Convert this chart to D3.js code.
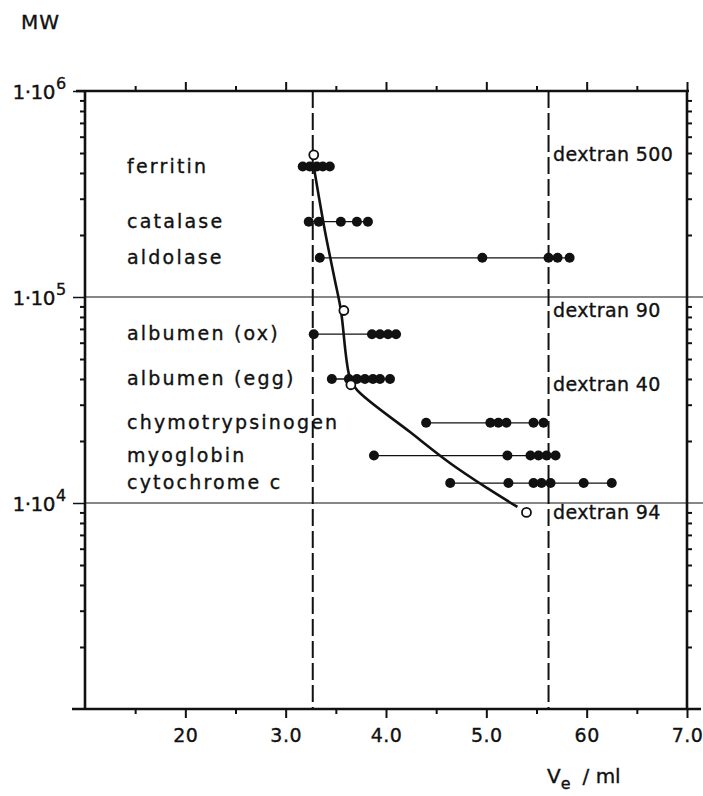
<!DOCTYPE html>
<html><head><meta charset="utf-8">
<script src="https://cdn.jsdelivr.net/npm/d3@7"></script>
<style>
body{margin:0;background:#fff;}
svg{display:block;font-family:"DejaVu Sans",sans-serif;}
text{fill:#111;stroke:#111;stroke-width:0.35px;}
</style></head>
<body>
<svg id="chart" width="703" height="796"></svg>
<script>
// ---------- data ----------
const proteins = ["ferritin","catalase","aldolase","albumen (ox)","albumen (egg)","chymotrypsinogen","myoglobin","cytochrome c"];
const proteinMW = [430000, 232000, 155000, 66000, 40000, 24500, 17000, 12500];
const proteinVe = [
  [3.17, 3.24, 3.31, 3.37, 3.44],
  [3.23, 3.33, 3.55, 3.71, 3.82],
  [3.34, 4.96, 5.62, 5.71, 5.83],
  [3.28, 3.86, 3.94, 4.02, 4.10],
  [3.46, 3.63, 3.71, 3.79, 3.87, 3.94, 4.04],
  [4.40, 5.04, 5.12, 5.20, 5.47, 5.57],
  [3.88, 5.21, 5.44, 5.52, 5.60, 5.69],
  [4.64, 5.22, 5.47, 5.55, 5.64, 5.97, 6.25]
];
const dextrans = ["dextran 500","dextran 90","dextran 40","dextran 94"];
const dextranMW = [490000, 86000, 37500, 9000];
const dextranVe = [3.28, 3.58, 3.65, 5.40];
const curveVe = [3.28, 3.39, 3.49, 3.55, 3.64, 3.71, 4.24, 4.64, 5.01, 5.31];
const curveMW = [430000, 211000, 121000, 86500, 40500, 35400, 22100, 15600, 11800, 9570];
const dashedVe = [3.27, 5.62];
const xTickValues = [2, 3, 4, 5, 6, 7];
const xTickLabels = ["20", "3.0", "4.0", "5.0", "60", "7.0"];
const xMinorTicks = [1.5, 2.5, 3.5, 4.5, 5.5, 6.5];
const yMajorTicks = [1e4, 1e5, 1e6];
const yTickExponents = ["4", "5", "6"];
const gridMW = [1e4, 1e5];

// ---------- layout ----------
const svg = d3.select("#chart");
const L = 85, R = 687, T = 91, B = 709;
const x = d3.scaleLinear().domain([1, 7]).range([L, R]);
const y = d3.scaleLog().domain([1e3, 1e6]).range([B, T]);

const yMinor = [];
[1e3, 1e4, 1e5].forEach(d => { for (let k = 2; k <= 9; k++) yMinor.push(d * k); });

function styleAxis(g, w) {
  g.select(".domain").remove();
  g.selectAll(".tick line").attr("stroke", "#111").attr("stroke-width", w);
}

// minor & major ticks on all sides
svg.append("g").attr("transform", `translate(0,${B})`)
  .call(d3.axisBottom(x).tickValues(xMinorTicks).tickSize(5).tickFormat(""))
  .call(g => styleAxis(g, 2));
svg.append("g").attr("transform", `translate(0,${B})`)
  .call(d3.axisBottom(x).tickValues(xTickValues).tickSize(9).tickPadding(11)
    .tickFormat((d, i) => xTickLabels[i]))
  .call(g => styleAxis(g, 2))
  .call(g => g.selectAll("text").attr("font-size", 19).attr("fill", "#111")
    .attr("font-family", "DejaVu Sans").attr("letter-spacing", "0.5px"));
svg.append("g").attr("transform", `translate(0,${T})`)
  .call(d3.axisTop(x).tickValues(xMinorTicks).tickSize(5).tickFormat(""))
  .call(g => styleAxis(g, 2));
svg.append("g").attr("transform", `translate(0,${T})`)
  .call(d3.axisTop(x).tickValues(xTickValues).tickSize(9).tickFormat(""))
  .call(g => styleAxis(g, 2));
svg.append("g").attr("transform", `translate(${L},0)`)
  .call(d3.axisLeft(y).tickValues(yMinor).tickSize(5).tickFormat(""))
  .call(g => styleAxis(g, 2));
svg.append("g").attr("transform", `translate(${L},0)`)
  .call(d3.axisLeft(y).tickValues(yMajorTicks).tickSize(12).tickFormat(""))
  .call(g => styleAxis(g, 1.5));
svg.append("g").attr("transform", `translate(${R},0)`)
  .call(d3.axisRight(y).tickValues(yMinor).tickSize(5).tickFormat(""))
  .call(g => styleAxis(g, 2));

// grid lines at 1e5 and 1e4
svg.selectAll(".grid").data(gridMW).enter().append("line")
  .attr("x1", L).attr("x2", 703)
  .attr("y1", d => y(d)).attr("y2", d => y(d))
  .attr("stroke", "#111").attr("stroke-width", 1.1);

// frame
svg.append("line").attr("x1", 76).attr("x2", R + 2).attr("y1", T).attr("y2", T).attr("stroke", "#111").attr("stroke-width", 2.6);
svg.append("line").attr("x1", 72).attr("x2", 701).attr("y1", B).attr("y2", B).attr("stroke", "#111").attr("stroke-width", 2.6);
svg.append("line").attr("x1", L).attr("x2", L).attr("y1", T - 1).attr("y2", B + 1).attr("stroke", "#111").attr("stroke-width", 2.6);
svg.append("line").attr("x1", R).attr("x2", R).attr("y1", T - 1).attr("y2", B + 1).attr("stroke", "#111").attr("stroke-width", 2.6);

// dashed verticals
svg.selectAll(".dash").data(dashedVe).enter().append("line")
  .attr("x1", d => x(d)).attr("x2", d => x(d)).attr("y1", T).attr("y2", B)
  .attr("stroke", "#111").attr("stroke-width", 2).attr("stroke-dasharray", "17,5");

// y tick labels 1·10^n
yMajorTicks.forEach((v, i) => {
  svg.append("text").attr("x", 55).attr("y", y(v) + 8)
    .attr("text-anchor", "end").attr("font-size", 20).attr("letter-spacing", "-0.5px")
    .text("1·10");
  svg.append("text").attr("x", 56).attr("y", y(v) - 2)
    .attr("font-size", 16).text(yTickExponents[i]);
});

// axis titles
svg.append("text").attr("x", 21).attr("y", 29).attr("font-size", 20).attr("letter-spacing", "1px").text("MW");
const vt = svg.append("text").attr("x", 547).attr("y", 783).attr("font-size", 20);
vt.append("tspan").text("V");
vt.append("tspan").attr("font-size", 16).attr("dy", 6).text("e");
vt.append("tspan").attr("dy", -6).attr("dx", 12).text("/ ml");

// protein rows
const rows = proteins.map((p, i) => ({ name: p, mw: proteinMW[i], ve: proteinVe[i] }));
const rowG = svg.selectAll(".row").data(rows).enter().append("g");
rowG.append("line")
  .attr("x1", d => x(d3.min(d.ve))).attr("x2", d => x(d3.max(d.ve)))
  .attr("y1", d => y(d.mw)).attr("y2", d => y(d.mw))
  .attr("stroke", "#111").attr("stroke-width", 1.3);
rowG.selectAll("circle").data(d => d.ve.map(v => [v, d.mw])).enter().append("circle")
  .attr("cx", d => x(d[0])).attr("cy", d => y(d[1])).attr("r", 5).attr("fill", "#111");
rowG.append("text").attr("x", 127).attr("y", d => y(d.mw)).attr("dy", "0.32em")
  .attr("font-size", 19).attr("letter-spacing", "2.2px").text(d => d.name);

// calibration curve
const curvePts = curveVe.map((v, i) => [v, curveMW[i]]);
svg.append("path").datum(curvePts)
  .attr("d", d3.line().x(d => x(d[0])).y(d => y(d[1])).curve(d3.curveCatmullRom.alpha(0.5)))
  .attr("fill", "none").attr("stroke", "#111").attr("stroke-width", 2.6);

// dextran open circles and labels
svg.selectAll(".dex").data(dextranVe).enter().append("circle")
  .attr("cx", d => x(d)).attr("cy", (d, i) => y(dextranMW[i])).attr("r", 4.5)
  .attr("fill", "#fff").attr("stroke", "#111").attr("stroke-width", 1.8);
svg.selectAll(".dexlab").data(dextrans).enter().append("text")
  .attr("x", 553).attr("y", (d, i) => y(dextranMW[i])).attr("dy", "0.35em")
  .attr("font-size", 19).attr("letter-spacing", "0.4px").text(d => d);
</script>
</body></html>
